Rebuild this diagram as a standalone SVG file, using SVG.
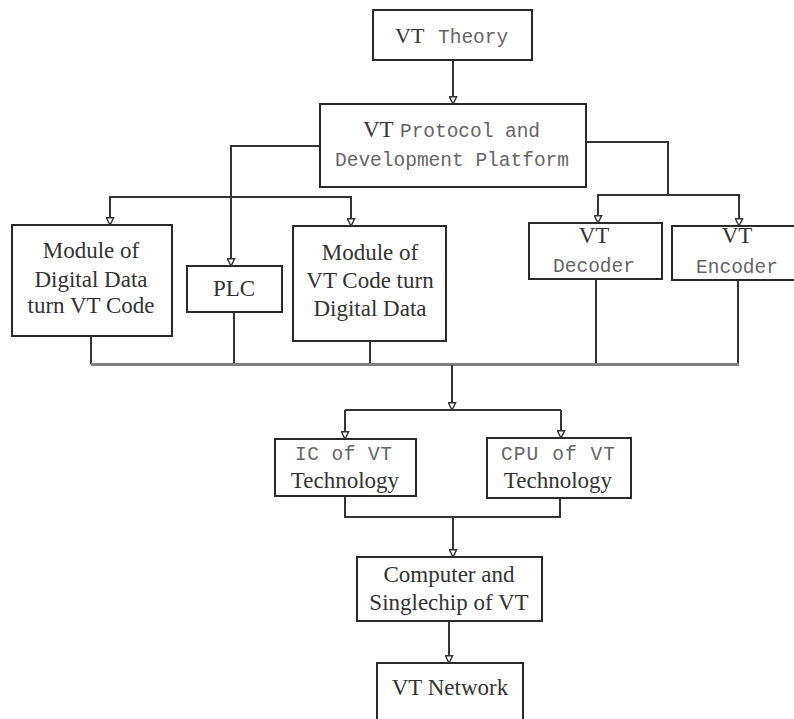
<svg xmlns="http://www.w3.org/2000/svg" width="794" height="719" viewBox="0 0 794 719">
<style>
.box{fill:#fff;stroke:#2a2a2a;stroke-width:2}
.ln{fill:none;stroke:#333;stroke-width:2}
.bus{fill:none;stroke:#808080;stroke-width:3}
.sf{font-family:"Liberation Serif","Times New Roman",serif;font-size:23px;fill:#333;text-anchor:middle}
.mono{font-family:"Liberation Mono","Courier New",monospace;font-size:19.5px;fill:#666}
</style>
<defs>
<marker id="ah" viewBox="0 0 10 10" refX="9" refY="5" markerWidth="9" markerHeight="9" markerUnits="userSpaceOnUse" orient="auto">
<path d="M1,1 L9,5 L1,9 Z" fill="#fff" stroke="#333" stroke-width="1.6"/>
</marker>
</defs>
<rect width="794" height="719" fill="#fff"/>
<g id="connectors">
<path class="ln" d="M453,60 V104" marker-end="url(#ah)"/>
<path class="ln" d="M320,146 H231 V266" marker-end="url(#ah)"/>
<path class="ln" d="M231,197 H110 V225" marker-end="url(#ah)"/>
<path class="ln" d="M231,197 H351 V226" marker-end="url(#ah)"/>
<path class="ln" d="M586,142 H668 V195"/>
<path class="ln" d="M668,195 H598 V223" marker-end="url(#ah)"/>
<path class="ln" d="M668,195 H739 V226" marker-end="url(#ah)"/>
<path class="ln" d="M91,336 V364"/>
<path class="ln" d="M234,312 V364"/>
<path class="ln" d="M370,341 V364"/>
<path class="ln" d="M596,279 V364"/>
<path class="ln" d="M738,280 V364"/>
<path class="bus" d="M91,364.5 H739"/>
<path class="ln" d="M452,365 V410" marker-end="url(#ah)"/>
<path class="ln" d="M345,410 H561"/>
<path class="ln" d="M345,410 V439" marker-end="url(#ah)"/>
<path class="ln" d="M561,410 V438" marker-end="url(#ah)"/>
<path class="ln" d="M345,496 V517 H560 V498"/>
<path class="ln" d="M453,517 V557" marker-end="url(#ah)"/>
<path class="ln" d="M449,621 V663" marker-end="url(#ah)"/>
</g>
<g id="vt-theory">
<rect class="box" x="373" y="10" width="159" height="50"/>
<text x="395" y="43" font-family="Liberation Serif,serif" font-size="22" fill="#333">VT<tspan class="mono" x="438" font-size="19.2">Theory</tspan></text>
</g>
<g id="vt-protocol">
<rect class="box" x="320" y="104" width="266" height="83"/>
<text x="363" y="137" font-family="Liberation Serif,serif" font-size="23" fill="#333">VT<tspan class="mono" x="400" textLength="140">Protocol and</tspan></text>
<text class="mono" x="335" y="166" textLength="234">Development Platform</text>
</g>
<g id="module-d2vt">
<rect class="box" x="12" y="225" width="160" height="111"/>
<text class="sf" x="91" y="258">Module of</text>
<text class="sf" x="91" y="287">Digital Data</text>
<text class="sf" x="91" y="313">turn VT Code</text>
</g>
<g id="plc">
<rect class="box" x="187" y="266" width="95" height="46"/>
<text class="sf" x="234" y="296">PLC</text>
</g>
<g id="module-vt2d">
<rect class="box" x="293" y="226" width="153" height="115"/>
<text class="sf" x="370" y="260">Module of</text>
<text class="sf" x="370" y="288">VT Code turn</text>
<text class="sf" x="370" y="316">Digital Data</text>
</g>
<g id="vt-decoder">
<rect class="box" x="529" y="223" width="133" height="56"/>
<text class="sf" x="594" y="243" font-size="22">VT</text>
<text class="mono" x="594" y="272" text-anchor="middle" font-size="19">Decoder</text>
</g>
<g id="vt-encoder">
<rect class="box" x="672" y="226" width="130" height="54"/>
<text class="sf" x="737" y="243" font-size="22">VT</text>
<text class="mono" x="737" y="273" text-anchor="middle" font-size="19">Encoder</text>
</g>
<g id="ic-vt">
<rect class="box" x="275" y="439" width="141" height="57"/>
<text class="mono" x="295" y="460" textLength="97">IC of VT</text>
<text class="sf" x="345" y="488">Technology</text>
</g>
<g id="cpu-vt">
<rect class="box" x="487" y="438" width="144" height="60"/>
<text class="mono" x="501" y="460" textLength="114">CPU of VT</text>
<text class="sf" x="558" y="488">Technology</text>
</g>
<g id="computer-singlechip">
<rect class="box" x="357" y="557" width="185" height="64"/>
<text class="sf" x="449" y="582">Computer and</text>
<text class="sf" x="449" y="610">Singlechip of VT</text>
</g>
<g id="vt-network">
<rect class="box" x="377" y="663" width="146" height="62"/>
<text class="sf" x="450" y="695">VT Network</text>
</g>
</svg>
